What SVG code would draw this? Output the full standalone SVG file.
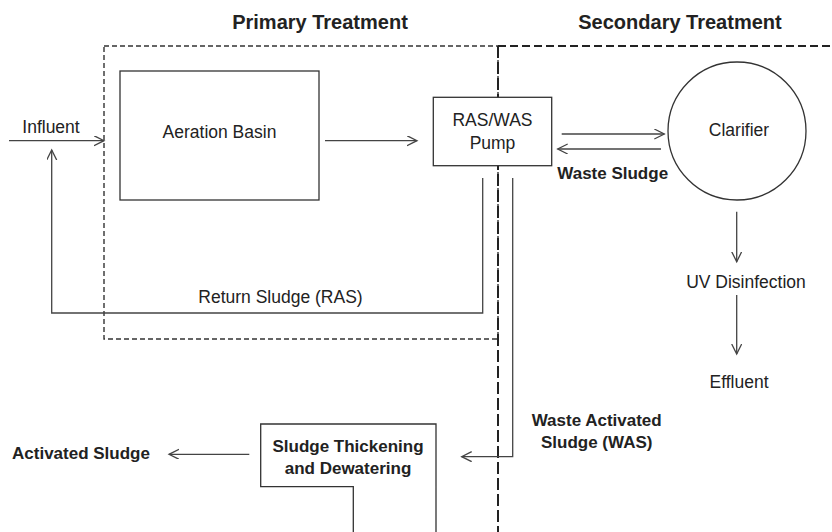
<svg xmlns="http://www.w3.org/2000/svg" width="832" height="532" viewBox="0 0 832 532">
<defs>
<style>
.t{font-family:"Liberation Sans",Arial,sans-serif;font-size:17.5px;fill:#222;text-anchor:middle}
.b{font-family:"Liberation Sans",Arial,sans-serif;font-size:17px;font-weight:bold;fill:#222;text-anchor:middle}
.h{font-family:"Liberation Sans",Arial,sans-serif;font-size:20px;font-weight:bold;fill:#222;text-anchor:middle}
.box{fill:#fff;stroke:#333;stroke-width:1.3}
.ln{fill:none;stroke:#444;stroke-width:1.3}
.arr{fill:none;stroke:#444;stroke-width:1.3;marker-end:url(#ah)}
.d1{fill:none;stroke:#333;stroke-width:1.4;stroke-dasharray:5 3}
.d2{fill:none;stroke:#222;stroke-width:2;stroke-dasharray:8 4}
.d3{fill:none;stroke:#222;stroke-width:2;stroke-dasharray:12 4}
</style>
<marker id="ah" markerUnits="userSpaceOnUse" markerWidth="12" markerHeight="12" refX="10" refY="5" orient="auto">
<path d="M0,0 L10,5 L0,10" fill="none" stroke="#444" stroke-width="1.3"/>
</marker>
</defs>

<g id="regions">
<text class="h" x="320" y="29">Primary Treatment</text>
<text class="h" x="680" y="29">Secondary Treatment</text>
<rect class="d1" x="104" y="46" width="394" height="293"/>
<path class="d2" d="M498,46 H832"/>
<path class="d3" d="M498,46 V532"/>
</g>

<g id="connectors">
<path class="arr" d="M9,140.7 H104"/>
<path class="arr" d="M482.7,178 V313 H51.7 V150"/>
<path class="arr" d="M325,140.7 H417"/>
<path class="arr" d="M561.7,134 H664.3"/>
<path class="arr" d="M661,149 H557.7"/>
<path class="arr" d="M736.7,211.7 V261.7"/>
<path class="arr" d="M736.7,295 V354"/>
<path class="arr" d="M512.7,178 V456.7 H461.7"/>
<path class="arr" d="M249.3,454.3 H169"/>
</g>

<g id="influent">
<text class="t" x="51" y="133">Influent</text>
</g>

<g id="aeration-basin">
<rect class="box" x="120" y="71" width="199" height="129"/>
<text class="t" x="219.5" y="138">Aeration Basin</text>
</g>

<g id="pump">
<rect class="box" x="433.3" y="97.3" width="118.4" height="68.4"/>
<text class="t" x="492.5" y="126">RAS/WAS</text>
<text class="t" x="492.5" y="148.5">Pump</text>
</g>

<g id="clarifier">
<circle class="box" cx="737" cy="131" r="69"/>
<text class="t" x="739" y="136">Clarifier</text>
</g>

<g id="waste-sludge-label">
<text class="b" x="612.7" y="179">Waste Sludge</text>
</g>

<g id="uv-disinfection">
<text class="t" x="746" y="288">UV Disinfection</text>
</g>

<g id="effluent">
<text class="t" x="739" y="388">Effluent</text>
</g>

<g id="return-sludge-label">
<text class="t" x="280.5" y="303">Return Sludge (RAS)</text>
</g>

<g id="was-label">
<text class="b" x="596.7" y="426">Waste Activated</text>
<text class="b" x="596.7" y="448">Sludge (WAS)</text>
</g>

<g id="sludge-thickening">
<path class="box" d="M353.3,532 V486.7 H260.7 V424 H436 V532"/>
<text class="b" x="348" y="451.7">Sludge Thickening</text>
<text class="b" x="348" y="474">and Dewatering</text>
</g>

<g id="activated-sludge">
<text class="b" x="81" y="459">Activated Sludge</text>
</g>
</svg>
